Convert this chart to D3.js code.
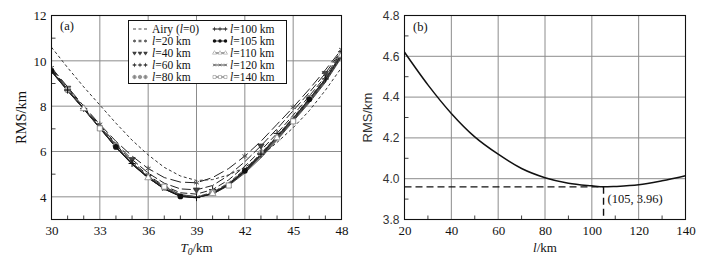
<!DOCTYPE html>
<html>
<head>
<meta charset="utf-8">
<script src="https://cdn.jsdelivr.net/npm/d3@7"></script>
<style>
  html, body { margin: 0; padding: 0; background: #fff; }
  svg text { font-family: "Liberation Serif", "Times New Roman", serif; }
  .tick text { font-size: 13px; fill: #111; }
  .sans .tick text { font-family: "Liberation Sans", Arial, sans-serif; font-size: 12px; fill: #333; }
  .axis-title { font-size: 13px; fill: #111; }
</style>
</head>
<body>
<svg id="chart" width="712" height="263"></svg>
<script>
// Panel (a): RMS misfit vs reference depth T0 for several plate widths l.
var T0 = [30, 31, 32, 33, 34, 35, 36, 37, 38, 39, 40, 41, 42, 43, 44, 45, 46, 47, 48];
var rmsAiry = [10.6, 9.7, 8.85, 8.05, 7.25, 6.5, 5.85, 5.3, 4.92, 4.72, 4.76, 4.97, 5.3, 5.8, 6.4, 7.05, 7.8, 8.7, 9.7];
var rmsL20  = [9.7, 8.85, 8.0, 7.2, 6.45, 5.8, 5.25, 4.85, 4.65, 4.62, 4.85, 5.25, 5.8, 6.45, 7.2, 7.95, 8.75, 9.6, 10.5];
var rmsL40  = [9.65, 8.8, 7.95, 7.15, 6.35, 5.65, 5.05, 4.6, 4.35, 4.31, 4.5, 4.95, 5.55, 6.25, 7.0, 7.8, 8.6, 9.45, 10.45];
var rmsL60  = [9.6, 8.75, 7.9, 7.1, 6.3, 5.55, 4.95, 4.48, 4.18, 4.12, 4.32, 4.75, 5.35, 6.05, 6.8, 7.6, 8.45, 9.3, 10.4];
var rmsL80  = [9.58, 8.72, 7.88, 7.07, 6.25, 5.5, 4.9, 4.42, 4.08, 4.0, 4.2, 4.62, 5.22, 5.92, 6.7, 7.5, 8.35, 9.22, 10.32];
var rmsL100 = [9.56, 8.71, 7.87, 7.06, 6.22, 5.47, 4.87, 4.38, 4.05, 3.965, 4.17, 4.58, 5.18, 5.88, 6.67, 7.47, 8.32, 9.2, 10.3];
var rmsL105 = [9.55, 8.7, 7.9, 7.05, 6.2, 5.45, 4.85, 4.35, 4.02, 3.96, 4.15, 4.55, 5.15, 5.85, 6.65, 7.45, 8.3, 9.2, 10.3];
var rmsL110 = [9.54, 8.69, 7.89, 7.04, 6.19, 5.44, 4.84, 4.34, 4.02, 3.962, 4.14, 4.53, 5.12, 5.82, 6.6, 7.4, 8.25, 9.15, 10.25];
var rmsL120 = [9.53, 8.68, 7.88, 7.03, 6.18, 5.43, 4.83, 4.36, 4.03, 3.97, 4.12, 4.52, 5.1, 5.78, 6.55, 7.37, 8.2, 9.1, 10.2];
var rmsL140 = [9.52, 8.67, 7.87, 7.02, 6.18, 5.45, 4.88, 4.45, 4.1, 4.01, 4.12, 4.5, 5.05, 5.72, 6.5, 7.33, 8.15, 9.05, 10.15];
var xTicksA = [30, 33, 36, 39, 42, 45, 48];
var yTicksA = [4, 6, 8, 10, 12];

// Panel (b): minimum RMS vs l.
var lKm = [20, 30, 40, 50, 60, 70, 80, 90, 100, 105, 110, 120, 130, 140];
var rmsMin = [4.62, 4.46, 4.32, 4.205, 4.12, 4.05, 4.005, 3.978, 3.965, 3.96, 3.962, 3.97, 3.99, 4.015];
var best = [105, 3.96];
var xTicksB = [20, 40, 60, 80, 100, 120, 140];
var yTicksB = [3.8, 4.0, 4.2, 4.4, 4.6, 4.8];

var svg = d3.select('#chart');
var GRID = '#8c8c8c';
var INK = '#111';
var FONT = '"Liberation Serif", "Times New Roman", serif';
var SANS = '"Liberation Sans", Arial, sans-serif';

// series table: label parts, values, line dash, marker
var series = [
  { pre: 'Airy (', it: 'l', post: '=0)', v: rmsAiry, dash: '3,2.5', col: '#333', sym: null },
  { pre: '', it: 'l', post: '=20 km', v: rmsL20, dash: '11,4', col: '#222', sym: 'asterisk', every: 3, off: 0 },
  { pre: '', it: 'l', post: '=40 km', v: rmsL40, dash: '9,3', col: '#222', sym: 'tridown', every: 4, off: 1 },
  { pre: '', it: 'l', post: '=60 km', v: rmsL60, dash: '7,3', col: '#222', sym: 'plus', every: 4, off: 2 },
  { pre: '', it: 'l', post: '=80 km', v: rmsL80, dash: '5,2', col: '#444', sym: 'circplus', every: 3, off: 1 },
  { pre: '', it: 'l', post: '=100 km', v: rmsL100, dash: null, col: '#222', sym: 'plus', every: 4, off: 1 },
  { pre: '', it: 'l', post: '=105 km', v: rmsL105, dash: null, col: '#111', sym: 'dot', every: 4, off: 0 },
  { pre: '', it: 'l', post: '=110 km', v: rmsL110, dash: null, col: '#333', sym: 'tri', every: 4, off: 2 },
  { pre: '', it: 'l', post: '=120 km', v: rmsL120, dash: null, col: '#333', sym: 'times', every: 4, off: 3 },
  { pre: '', it: 'l', post: '=140 km', v: rmsL140, dash: null, col: '#444', sym: 'square', every: 4, off: 3 }
];

function drawMarker(g, kind, cx, cy) {
  var s = g.append('g').attr('transform', 'translate(' + cx + ',' + cy + ')');
  if (kind === 'asterisk') {
    s.append('path').attr('d', d3.symbol(d3.symbolAsterisk, 22)())
      .attr('fill', 'none').attr('stroke', '#555').attr('stroke-width', 1);
  } else if (kind === 'plus') {
    s.append('path').attr('d', d3.symbol(d3.symbolPlus, 18)())
      .attr('fill', 'none').attr('stroke', '#111').attr('stroke-width', 1);
  } else if (kind === 'times') {
    s.append('path').attr('d', d3.symbol(d3.symbolTimes, 16)())
      .attr('fill', 'none').attr('stroke', '#555').attr('stroke-width', 0.9);
  } else if (kind === 'tridown') {
    s.append('path').attr('d', d3.symbol(d3.symbolTriangle, 18)())
      .attr('transform', 'rotate(180)')
      .attr('fill', '#444').attr('stroke', '#222').attr('stroke-width', 0.6);
  } else if (kind === 'tri') {
    s.append('path').attr('d', d3.symbol(d3.symbolTriangle, 20)())
      .attr('fill', '#fff').attr('stroke', '#888').attr('stroke-width', 0.8);
  } else if (kind === 'square') {
    s.append('path').attr('d', d3.symbol(d3.symbolSquare, 26)())
      .attr('fill', '#fff').attr('stroke', '#777').attr('stroke-width', 0.8);
  } else if (kind === 'dot') {
    s.append('path').attr('d', d3.symbol(d3.symbolCircle, 26)())
      .attr('fill', '#111');
  } else if (kind === 'circplus') {
    s.append('path').attr('d', d3.symbol(d3.symbolCircle, 28)())
      .attr('fill', '#bbb').attr('stroke', '#777').attr('stroke-width', 0.8);
    s.append('path').attr('d', d3.symbol(d3.symbolPlus, 14)())
      .attr('fill', 'none').attr('stroke', '#555').attr('stroke-width', 0.7);
  }
}

function frame(box, x, y, xTicks, yTicks, xMinor, yMinor, fmtY, ySans) {
  var g = svg.append('g');
  // grid
  xTicks.forEach(function (t) {
    g.append('line').attr('x1', x(t)).attr('x2', x(t)).attr('y1', box.y0).attr('y2', box.y1)
      .attr('stroke', GRID).attr('stroke-width', 1);
  });
  yTicks.forEach(function (t) {
    g.append('line').attr('x1', box.x0).attr('x2', box.x1).attr('y1', y(t)).attr('y2', y(t))
      .attr('stroke', GRID).attr('stroke-width', 1);
  });
  // minor ticks (inside)
  xMinor.forEach(function (t) {
    g.append('line').attr('x1', x(t)).attr('x2', x(t)).attr('y1', box.y1).attr('y2', box.y1 - 4)
      .attr('stroke', INK).attr('stroke-width', 0.8);
  });
  yMinor.forEach(function (t) {
    g.append('line').attr('x1', box.x0).attr('x2', box.x0 + 4).attr('y1', y(t)).attr('y2', y(t))
      .attr('stroke', INK).attr('stroke-width', 0.8);
  });
  // axes labels
  var ax = g.append('g').attr('transform', 'translate(0,' + box.y1 + ')')
    .call(d3.axisBottom(x).tickValues(xTicks).tickSize(0).tickPadding(6));
  ax.attr('font-family', FONT);
  ax.select('.domain').remove();
  var ay = g.append('g').attr('transform', 'translate(' + box.x0 + ',0)')
    .call(d3.axisLeft(y).tickValues(yTicks).tickFormat(fmtY).tickSize(0).tickPadding(5));
  ay.attr('font-family', ySans ? SANS : FONT).classed('sans', !!ySans);
  ay.select('.domain').remove();
  return g;
}

function border(box) {
  svg.append('rect').attr('x', box.x0).attr('y', box.y0)
    .attr('width', box.x1 - box.x0).attr('height', box.y1 - box.y0)
    .attr('fill', 'none').attr('stroke', INK).attr('stroke-width', 1.1);
}

// ---------- panel (a)
(function () {
  var box = { x0: 51.5, x1: 341.5, y0: 15.5, y1: 219.5 };
  var x = d3.scaleLinear().domain([30, 48]).range([box.x0, box.x1]);
  var y = d3.scaleLinear().domain([3, 12]).range([box.y1, box.y0]);
  var xMinor = d3.range(30, 49).filter(function (t) { return xTicksA.indexOf(t) < 0; });
  var yMinor = [5, 7, 9, 11];
  frame(box, x, y, xTicksA, yTicksA, xMinor, yMinor, d3.format('d'), false);

  svg.append('clipPath').attr('id', 'clipA').append('rect')
    .attr('x', box.x0).attr('y', box.y0).attr('width', box.x1 - box.x0).attr('height', box.y1 - box.y0);
  var plot = svg.append('g').attr('clip-path', 'url(#clipA)');
  var line = d3.line().x(function (d, i) { return x(T0[i]); }).y(function (d) { return y(d); });

  series.slice().reverse().forEach(function (s) {
    plot.append('path').datum(s.v)
      .attr('fill', 'none').attr('stroke', s.col).attr('stroke-width', 1)
      .attr('stroke-dasharray', s.dash)
      .attr('d', line);
  });
  series.forEach(function (s) {
    if (!s.sym) return;
    s.v.forEach(function (v, i) {
      if ((i - s.off) % s.every === 0 && i >= s.off) drawMarker(plot, s.sym, x(T0[i]), y(v));
    });
  });
  border(box);

  svg.append('text').attr('x', 60).attr('y', 30).attr('font-size', 12.5).attr('fill', INK).text('(a)');

  // legend
  var lg = svg.append('g');
  lg.append('rect').attr('x', 128.5).attr('y', 20.5).attr('width', 158).attr('height', 63)
    .attr('fill', '#fff').attr('stroke', INK).attr('stroke-width', 1);
  series.forEach(function (s, i) {
    var col = i < 5 ? 0 : 1;
    var row = i % 5;
    var sx = col === 0 ? 133 : 213;
    var cy = 29 + row * 12;
    lg.append('line').attr('x1', sx).attr('x2', sx + 14).attr('y1', cy).attr('y2', cy)
      .attr('stroke', s.col).attr('stroke-width', 0.9).attr('stroke-dasharray', s.dash ? '3,2.5' : null);
    if (s.sym) [sx + 1.5, sx + 7, sx + 12.5].forEach(function (mx) {
      var m = lg.append('g').attr('transform', 'translate(' + mx + ',' + cy + ') scale(0.6)');
      drawMarker(m, s.sym, 0, 0);
    });
    var t = lg.append('text').attr('x', col === 0 ? 152 : 230).attr('y', cy + 4)
      .attr('font-size', 11.5).attr('fill', INK);
    t.append('tspan').text(s.pre);
    t.append('tspan').attr('font-style', 'italic').text(s.it);
    t.append('tspan').text(s.post);
  });

  svg.append('text').attr('class', 'axis-title')
    .attr('transform', 'translate(26,' + ((box.y0 + box.y1) / 2) + ') rotate(-90)')
    .attr('text-anchor', 'middle').attr('font-size', 14.5).style('font-size', '14.5px').text('RMS/km');
  var xt = svg.append('text').attr('class', 'axis-title')
    .attr('x', (box.x0 + box.x1) / 2).attr('y', 252).attr('text-anchor', 'middle');
  xt.append('tspan').attr('font-style', 'italic').text('T');
  xt.append('tspan').attr('font-style', 'italic').attr('font-size', 9.5).attr('dy', 3).text('0');
  xt.append('tspan').attr('dy', -3).text('/km');
})();

// ---------- panel (b)
(function () {
  var box = { x0: 404.5, x1: 685.5, y0: 15.5, y1: 219.5 };
  var x = d3.scaleLinear().domain([20, 140]).range([box.x0, box.x1]);
  var y = d3.scaleLinear().domain([3.8, 4.8]).range([box.y1, box.y0]);
  var xMinor = [30, 50, 70, 90, 110, 130];
  var yMinor = [3.9, 4.1, 4.3, 4.5, 4.7];
  frame(box, x, y, xTicksB, yTicksB, xMinor, yMinor, d3.format('.1f'), true);

  svg.append('path').datum(lKm.map(function (l, i) { return [l, rmsMin[i]]; }))
    .attr('fill', 'none').attr('stroke', INK).attr('stroke-width', 1.5)
    .attr('d', d3.line().x(function (d) { return x(d[0]); }).y(function (d) { return y(d[1]); })
      .curve(d3.curveMonotoneX));

  svg.append('line').attr('x1', x(20)).attr('x2', x(best[0])).attr('y1', y(best[1])).attr('y2', y(best[1]))
    .attr('stroke', INK).attr('stroke-width', 1.4).attr('stroke-dasharray', '7,4');
  svg.append('line').attr('x1', x(best[0])).attr('x2', x(best[0])).attr('y1', y(best[1])).attr('y2', y(3.8))
    .attr('stroke', INK).attr('stroke-width', 1.4).attr('stroke-dasharray', '7,4');
  svg.append('text').attr('x', x(best[0]) + 4).attr('y', y(3.9) + 4).attr('font-size', 12.5).attr('fill', INK)
    .text('(' + best[0] + ', ' + best[1].toFixed(2) + ')');
  border(box);

  svg.append('text').attr('x', 413).attr('y', 31).attr('font-size', 12.5).attr('fill', INK).text('(b)');

  svg.append('text')
    .attr('transform', 'translate(372,' + ((box.y0 + box.y1) / 2) + ') rotate(-90)')
    .attr('text-anchor', 'middle').style('font-family', SANS).style('font-size', '13px')
    .attr('fill', '#333').text('RMS/km');
  var xt = svg.append('text').attr('class', 'axis-title')
    .attr('x', (box.x0 + box.x1) / 2).attr('y', 252).attr('text-anchor', 'middle');
  xt.append('tspan').attr('font-style', 'italic').text('l');
  xt.append('tspan').text('/km');
})();
</script>
</body>
</html>
